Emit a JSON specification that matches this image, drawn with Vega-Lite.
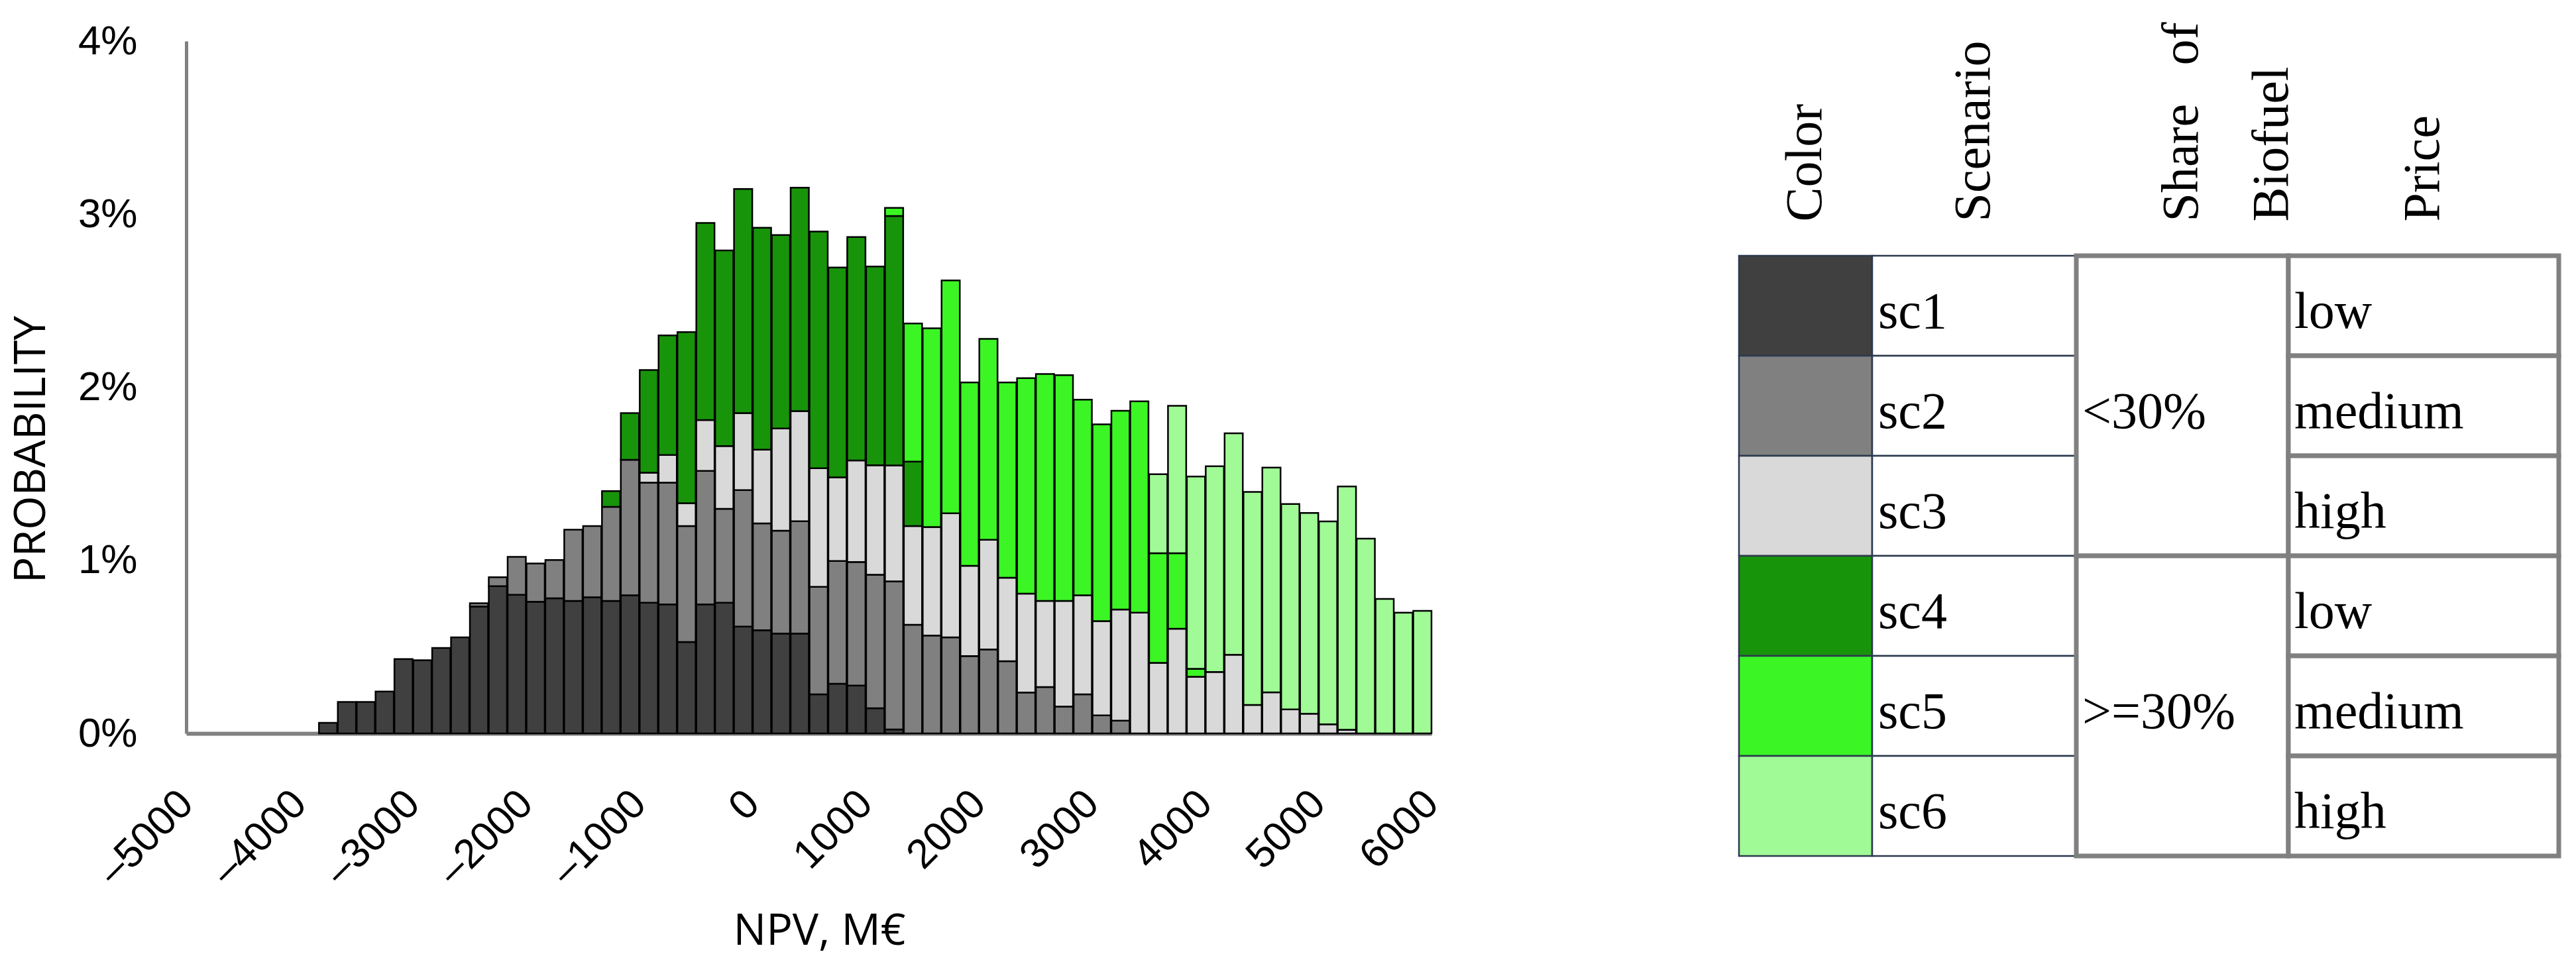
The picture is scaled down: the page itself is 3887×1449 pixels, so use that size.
{
 "$schema": "https://vega.github.io/schema/vega-lite/v6.json",
 "background": "white",
 "padding": {"left": 14, "top": 31, "right": 5, "bottom": 0},
 "config": {"view": {"stroke": null}, "axis": {"labelColor": "black", "titleColor": "black", "labelLimit": 0}},
 "datasets": {
  "hist": [
   {"lo":-3833.3,"hi":-3666.7,"sc":"sc1","p":0.061},
   {"lo":-3666.7,"hi":-3500,"sc":"sc1","p":0.182},
   {"lo":-3500,"hi":-3333.3,"sc":"sc1","p":0.182},
   {"lo":-3333.3,"hi":-3166.7,"sc":"sc1","p":0.242},
   {"lo":-3166.7,"hi":-3000,"sc":"sc1","p":0.430},
   {"lo":-3000,"hi":-2833.3,"sc":"sc1","p":0.423},
   {"lo":-2833.3,"hi":-2666.7,"sc":"sc1","p":0.494},
   {"lo":-2666.7,"hi":-2500,"sc":"sc1","p":0.555},
   {"lo":-2500,"hi":-2333.3,"sc":"sc1","p":0.733},
   {"lo":-2500,"hi":-2333.3,"sc":"sc2","p":0.019},
   {"lo":-2333.3,"hi":-2166.7,"sc":"sc1","p":0.851},
   {"lo":-2333.3,"hi":-2166.7,"sc":"sc2","p":0.051},
   {"lo":-2166.7,"hi":-2000,"sc":"sc1","p":0.801},
   {"lo":-2166.7,"hi":-2000,"sc":"sc2","p":0.219},
   {"lo":-2000,"hi":-1833.3,"sc":"sc1","p":0.761},
   {"lo":-2000,"hi":-1833.3,"sc":"sc2","p":0.221},
   {"lo":-1833.3,"hi":-1666.7,"sc":"sc1","p":0.781},
   {"lo":-1833.3,"hi":-1666.7,"sc":"sc2","p":0.221},
   {"lo":-1666.7,"hi":-1500,"sc":"sc1","p":0.766},
   {"lo":-1666.7,"hi":-1500,"sc":"sc2","p":0.411},
   {"lo":-1500,"hi":-1333.3,"sc":"sc1","p":0.787},
   {"lo":-1500,"hi":-1333.3,"sc":"sc2","p":0.411},
   {"lo":-1333.3,"hi":-1166.7,"sc":"sc1","p":0.766},
   {"lo":-1333.3,"hi":-1166.7,"sc":"sc2","p":0.543},
   {"lo":-1333.3,"hi":-1166.7,"sc":"sc4","p":0.091},
   {"lo":-1166.7,"hi":-1000,"sc":"sc1","p":0.798},
   {"lo":-1166.7,"hi":-1000,"sc":"sc2","p":0.783},
   {"lo":-1166.7,"hi":-1000,"sc":"sc4","p":0.270},
   {"lo":-1000,"hi":-833.3,"sc":"sc1","p":0.755},
   {"lo":-1000,"hi":-833.3,"sc":"sc2","p":0.694},
   {"lo":-1000,"hi":-833.3,"sc":"sc3","p":0.057},
   {"lo":-1000,"hi":-833.3,"sc":"sc4","p":0.594},
   {"lo":-833.3,"hi":-666.7,"sc":"sc1","p":0.745},
   {"lo":-833.3,"hi":-666.7,"sc":"sc2","p":0.704},
   {"lo":-833.3,"hi":-666.7,"sc":"sc3","p":0.160},
   {"lo":-833.3,"hi":-666.7,"sc":"sc4","p":0.691},
   {"lo":-666.7,"hi":-500,"sc":"sc1","p":0.528},
   {"lo":-666.7,"hi":-500,"sc":"sc2","p":0.670},
   {"lo":-666.7,"hi":-500,"sc":"sc3","p":0.132},
   {"lo":-666.7,"hi":-500,"sc":"sc4","p":0.989},
   {"lo":-500,"hi":-333.3,"sc":"sc1","p":0.745},
   {"lo":-500,"hi":-333.3,"sc":"sc2","p":0.772},
   {"lo":-500,"hi":-333.3,"sc":"sc3","p":0.294},
   {"lo":-500,"hi":-333.3,"sc":"sc4","p":1.138},
   {"lo":-333.3,"hi":-166.7,"sc":"sc1","p":0.755},
   {"lo":-333.3,"hi":-166.7,"sc":"sc2","p":0.543},
   {"lo":-333.3,"hi":-166.7,"sc":"sc3","p":0.362},
   {"lo":-333.3,"hi":-166.7,"sc":"sc4","p":1.130},
   {"lo":-166.7,"hi":0,"sc":"sc1","p":0.617},
   {"lo":-166.7,"hi":0,"sc":"sc2","p":0.789},
   {"lo":-166.7,"hi":0,"sc":"sc3","p":0.445},
   {"lo":-166.7,"hi":0,"sc":"sc4","p":1.294},
   {"lo":0,"hi":166.7,"sc":"sc1","p":0.596},
   {"lo":0,"hi":166.7,"sc":"sc2","p":0.617},
   {"lo":0,"hi":166.7,"sc":"sc3","p":0.426},
   {"lo":0,"hi":166.7,"sc":"sc4","p":1.283},
   {"lo":166.7,"hi":333.3,"sc":"sc1","p":0.577},
   {"lo":166.7,"hi":333.3,"sc":"sc2","p":0.594},
   {"lo":166.7,"hi":333.3,"sc":"sc3","p":0.591},
   {"lo":166.7,"hi":333.3,"sc":"sc4","p":1.117},
   {"lo":333.3,"hi":500,"sc":"sc1","p":0.577},
   {"lo":333.3,"hi":500,"sc":"sc2","p":0.649},
   {"lo":333.3,"hi":500,"sc":"sc3","p":0.636},
   {"lo":333.3,"hi":500,"sc":"sc4","p":1.291},
   {"lo":500,"hi":666.7,"sc":"sc1","p":0.226},
   {"lo":500,"hi":666.7,"sc":"sc2","p":0.621},
   {"lo":500,"hi":666.7,"sc":"sc3","p":0.685},
   {"lo":500,"hi":666.7,"sc":"sc4","p":1.368},
   {"lo":666.7,"hi":833.3,"sc":"sc1","p":0.287},
   {"lo":666.7,"hi":833.3,"sc":"sc2","p":0.709},
   {"lo":666.7,"hi":833.3,"sc":"sc3","p":0.483},
   {"lo":666.7,"hi":833.3,"sc":"sc4","p":1.213},
   {"lo":833.3,"hi":1000,"sc":"sc1","p":0.277},
   {"lo":833.3,"hi":1000,"sc":"sc2","p":0.713},
   {"lo":833.3,"hi":1000,"sc":"sc3","p":0.587},
   {"lo":833.3,"hi":1000,"sc":"sc4","p":1.291},
   {"lo":1000,"hi":1166.7,"sc":"sc1","p":0.145},
   {"lo":1000,"hi":1166.7,"sc":"sc2","p":0.772},
   {"lo":1000,"hi":1166.7,"sc":"sc3","p":0.632},
   {"lo":1000,"hi":1166.7,"sc":"sc4","p":1.149},
   {"lo":1166.7,"hi":1333.3,"sc":"sc1","p":0.023},
   {"lo":1166.7,"hi":1333.3,"sc":"sc2","p":0.855},
   {"lo":1166.7,"hi":1333.3,"sc":"sc3","p":0.670},
   {"lo":1166.7,"hi":1333.3,"sc":"sc4","p":1.441},
   {"lo":1166.7,"hi":1333.3,"sc":"sc5","p":0.047},
   {"lo":1333.3,"hi":1500,"sc":"sc2","p":0.628},
   {"lo":1333.3,"hi":1500,"sc":"sc3","p":0.570},
   {"lo":1333.3,"hi":1500,"sc":"sc4","p":0.372},
   {"lo":1333.3,"hi":1500,"sc":"sc5","p":0.798},
   {"lo":1500,"hi":1666.7,"sc":"sc2","p":0.566},
   {"lo":1500,"hi":1666.7,"sc":"sc3","p":0.626},
   {"lo":1500,"hi":1666.7,"sc":"sc5","p":1.149},
   {"lo":1666.7,"hi":1833.3,"sc":"sc2","p":0.555},
   {"lo":1666.7,"hi":1833.3,"sc":"sc3","p":0.717},
   {"lo":1666.7,"hi":1833.3,"sc":"sc5","p":1.345},
   {"lo":1833.3,"hi":2000,"sc":"sc2","p":0.447},
   {"lo":1833.3,"hi":2000,"sc":"sc3","p":0.521},
   {"lo":1833.3,"hi":2000,"sc":"sc5","p":1.060},
   {"lo":2000,"hi":2166.7,"sc":"sc2","p":0.485},
   {"lo":2000,"hi":2166.7,"sc":"sc3","p":0.634},
   {"lo":2000,"hi":2166.7,"sc":"sc5","p":1.160},
   {"lo":2166.7,"hi":2333.3,"sc":"sc2","p":0.417},
   {"lo":2166.7,"hi":2333.3,"sc":"sc3","p":0.483},
   {"lo":2166.7,"hi":2333.3,"sc":"sc5","p":1.128},
   {"lo":2333.3,"hi":2500,"sc":"sc2","p":0.236},
   {"lo":2333.3,"hi":2500,"sc":"sc3","p":0.572},
   {"lo":2333.3,"hi":2500,"sc":"sc5","p":1.245},
   {"lo":2500,"hi":2666.7,"sc":"sc2","p":0.268},
   {"lo":2500,"hi":2666.7,"sc":"sc3","p":0.498},
   {"lo":2500,"hi":2666.7,"sc":"sc5","p":1.311},
   {"lo":2666.7,"hi":2833.3,"sc":"sc2","p":0.155},
   {"lo":2666.7,"hi":2833.3,"sc":"sc3","p":0.611},
   {"lo":2666.7,"hi":2833.3,"sc":"sc5","p":1.304},
   {"lo":2833.3,"hi":3000,"sc":"sc2","p":0.226},
   {"lo":2833.3,"hi":3000,"sc":"sc3","p":0.572},
   {"lo":2833.3,"hi":3000,"sc":"sc5","p":1.130},
   {"lo":3000,"hi":3166.7,"sc":"sc2","p":0.104},
   {"lo":3000,"hi":3166.7,"sc":"sc3","p":0.545},
   {"lo":3000,"hi":3166.7,"sc":"sc5","p":1.137},
   {"lo":3166.7,"hi":3333.3,"sc":"sc2","p":0.074},
   {"lo":3166.7,"hi":3333.3,"sc":"sc3","p":0.642},
   {"lo":3166.7,"hi":3333.3,"sc":"sc5","p":1.148},
   {"lo":3333.3,"hi":3500,"sc":"sc3","p":0.698},
   {"lo":3333.3,"hi":3500,"sc":"sc5","p":1.221},
   {"lo":3500,"hi":3666.7,"sc":"sc3","p":0.408},
   {"lo":3500,"hi":3666.7,"sc":"sc5","p":0.633},
   {"lo":3500,"hi":3666.7,"sc":"sc6","p":0.457},
   {"lo":3666.7,"hi":3833.3,"sc":"sc3","p":0.605},
   {"lo":3666.7,"hi":3833.3,"sc":"sc5","p":0.436},
   {"lo":3666.7,"hi":3833.3,"sc":"sc6","p":0.852},
   {"lo":3833.3,"hi":4000,"sc":"sc3","p":0.327},
   {"lo":3833.3,"hi":4000,"sc":"sc5","p":0.046},
   {"lo":3833.3,"hi":4000,"sc":"sc6","p":1.111},
   {"lo":4000,"hi":4166.7,"sc":"sc3","p":0.355},
   {"lo":4000,"hi":4166.7,"sc":"sc6","p":1.189},
   {"lo":4166.7,"hi":4333.3,"sc":"sc3","p":0.455},
   {"lo":4166.7,"hi":4333.3,"sc":"sc6","p":1.279},
   {"lo":4333.3,"hi":4500,"sc":"sc3","p":0.165},
   {"lo":4333.3,"hi":4500,"sc":"sc6","p":1.230},
   {"lo":4500,"hi":4666.7,"sc":"sc3","p":0.237},
   {"lo":4500,"hi":4666.7,"sc":"sc6","p":1.299},
   {"lo":4666.7,"hi":4833.3,"sc":"sc3","p":0.139},
   {"lo":4666.7,"hi":4833.3,"sc":"sc6","p":1.186},
   {"lo":4833.3,"hi":5000,"sc":"sc3","p":0.114},
   {"lo":4833.3,"hi":5000,"sc":"sc6","p":1.160},
   {"lo":5000,"hi":5166.7,"sc":"sc3","p":0.053},
   {"lo":5000,"hi":5166.7,"sc":"sc6","p":1.172},
   {"lo":5166.7,"hi":5333.3,"sc":"sc3","p":0.021},
   {"lo":5166.7,"hi":5333.3,"sc":"sc6","p":1.406},
   {"lo":5333.3,"hi":5500,"sc":"sc6","p":1.125},
   {"lo":5500,"hi":5666.7,"sc":"sc6","p":0.777},
   {"lo":5666.7,"hi":5833.3,"sc":"sc6","p":0.698},
   {"lo":5833.3,"hi":6000,"sc":"sc6","p":0.708}
  ],
  "legend": [
   {"sc":"sc1","share":"<30%","price":"low"},
   {"sc":"sc2","share":"<30%","price":"medium"},
   {"sc":"sc3","share":"<30%","price":"high"},
   {"sc":"sc4","share":">=30%","price":"low"},
   {"sc":"sc5","share":">=30%","price":"medium"},
   {"sc":"sc6","share":">=30%","price":"high"}
  ]
 },
 "spacing": 440,
 "hconcat": [
  {
   "width": 1879,
   "height": 1045,
   "data": {"name": "hist"},
   "mark": {"type": "bar", "stroke": "black", "strokeWidth": 2.5},
   "encoding": {
    "x": {"field": "lo", "type": "quantitative", "bin": {"binned": true, "step": 166.6667},
     "scale": {"domain": [-5000, 6000], "nice": false, "zero": false},
     "axis": {"values": [-5000,-4000,-3000,-2000,-1000,0,1000,2000,3000,4000,5000,6000],
      "labelExpr": "datum.value < 0 ? '–' + format(-datum.value, 'd') : format(datum.value, 'd')",
      "labelAngle": -45, "labelAlign": "right", "labelBaseline": "middle",
      "labelFont": "Liberation Sans", "labelFontSize": 62, "labelPadding": 96, "labelLimit": 0,
      "labelFlush": false, "labelOverlap": false, "labelBound": false,
      "ticks": false, "tickSize": 0, "grid": false,
      "domainColor": "#808080", "domainWidth": 6,
      "title": "NPV, M€", "titleFont": "Open Sans",
      "titleFontSize": 66, "titleFontWeight": "normal", "titleX": 955, "titleY": 318, "titleBaseline": "alphabetic", "titleAlign": "center"}},
    "x2": {"field": "hi"},
    "y": {"field": "p", "type": "quantitative", "stack": "zero",
     "scale": {"domain": [0, 4], "nice": false},
     "axis": {"values": [0,1,2,3,4], "labelExpr": "datum.value + '%'",
      "labelFont": "Liberation Sans", "labelFontSize": 62, "labelPadding": 74, "labelFlush": false,
      "ticks": false, "tickSize": 0, "grid": false,
      "domainColor": "#808080", "domainWidth": 5,
      "title": "PROBABILITY", "titleFont": "Open Sans",
      "titleFontSize": 66, "titleFontWeight": "normal", "titlePadding": 36, "titleY": 616}},
    "color": {"field": "sc", "type": "nominal",
     "scale": {"domain": ["sc1","sc2","sc3","sc4","sc5","sc6"], "range": ["#404040","#808080","#d9d9d9","#18940a","#3bf524","#a0fa96"]},
     "legend": null},
    "order": {"field": "sc", "type": "ordinal", "sort": "ascending"}
   }
  },
  {
   "spacing": 0,
   "bounds": "flush",
   "vconcat": [
    {
     "width": 1237, "height": 324,
     "data": {"values": []},
     "mark": {"type": "text", "text": ""}
    },
    {
     "spacing": 0,
     "bounds": "flush",
     "hconcat": [
      {
       "width": 201, "height": 906,
       "data": {"name": "legend"},
       "mark": {"type": "rect", "stroke": "#2b3a4e", "strokeWidth": 2.5},
       "encoding": {
        "x": {"datum": "Color", "type": "nominal", "scale": {"paddingInner": 0, "paddingOuter": 0},
         "axis": {"orient": "top", "title": null, "domain": false, "ticks": false, "labelAngle": 270, "labelAlign": "left", "labelBaseline": "middle", "labelFont": "Liberation Serif", "labelFontSize": 78, "labelPadding": 52, "labelLimit": 0}},
        "y": {"field": "sc", "type": "nominal", "sort": null, "scale": {"paddingInner": 0, "paddingOuter": 0}, "axis": null},
        "color": {"field": "sc", "type": "nominal",
         "scale": {"domain": ["sc1","sc2","sc3","sc4","sc5","sc6"], "range": ["#404040","#808080","#d9d9d9","#18940a","#3bf524","#a0fa96"]},
         "legend": null}
       }
      },
      {
       "width": 308, "height": 906,
       "data": {"name": "legend"},
       "layer": [
        {
         "mark": {"type": "rect", "fill": "white", "stroke": "#2b3a4e", "strokeWidth": 2.5},
         "encoding": {
          "x": {"datum": "Scenario", "type": "nominal", "scale": {"paddingInner": 0, "paddingOuter": 0},
           "axis": {"orient": "top", "title": null, "domain": false, "ticks": false, "labelAngle": 270, "labelAlign": "left", "labelBaseline": "middle", "labelFont": "Liberation Serif", "labelFontSize": 78, "labelPadding": 52, "labelLimit": 0}},
          "y": {"field": "sc", "type": "nominal", "sort": null, "scale": {"paddingInner": 0, "paddingOuter": 0}, "axis": null}
         }
        },
        {
         "mark": {"type": "text", "align": "left", "baseline": "middle", "dx": 9, "dy": 10, "font": "Liberation Serif", "fontSize": 78, "color": "black"},
         "encoding": {
          "x": {"datum": "Scenario", "type": "nominal", "bandPosition": 0},
          "y": {"field": "sc", "type": "nominal", "sort": null},
          "text": {"field": "sc"}
         }
        }
       ]
      },
      {
       "width": 320, "height": 906,
       "data": {"name": "legend"},
       "transform": [{"aggregate": [{"op": "count", "as": "n"}], "groupby": ["share"]}],
       "layer": [
        {
         "mark": {"type": "rect", "fill": "white", "stroke": "#808080", "strokeWidth": 7},
         "encoding": {
          "x": {"datum": "Share\u00a0\u00a0\u00a0of|Biofuel", "type": "nominal", "scale": {"paddingInner": 0, "paddingOuter": 0},
           "axis": {"orient": "top", "title": null, "domain": false, "ticks": false, "labelAngle": 270, "labelAlign": "left", "labelBaseline": "middle", "labelFont": "Liberation Serif", "labelFontSize": 78, "labelPadding": 52, "labelLimit": 0, "labelLineHeight": 136, "labelExpr": "split(datum.label, '|')"}},
          "y": {"field": "share", "type": "nominal", "sort": ["<30%", ">=30%"], "scale": {"paddingInner": 0, "paddingOuter": 0}, "axis": null}
         }
        },
        {
         "mark": {"type": "text", "align": "left", "baseline": "middle", "dx": 9, "dy": 10, "font": "Liberation Serif", "fontSize": 78, "color": "black"},
         "encoding": {
          "x": {"datum": "Share\u00a0\u00a0\u00a0of|Biofuel", "type": "nominal", "bandPosition": 0},
          "y": {"field": "share", "type": "nominal", "sort": ["<30%", ">=30%"]},
          "text": {"field": "share"}
         }
        }
       ]
      },
      {
       "width": 408, "height": 906,
       "data": {"name": "legend"},
       "layer": [
        {
         "mark": {"type": "rect", "fill": "white", "stroke": "#808080", "strokeWidth": 7},
         "encoding": {
          "x": {"datum": "Price", "type": "nominal", "scale": {"paddingInner": 0, "paddingOuter": 0},
           "axis": {"orient": "top", "title": null, "domain": false, "ticks": false, "labelAngle": 270, "labelAlign": "left", "labelBaseline": "middle", "labelFont": "Liberation Serif", "labelFontSize": 78, "labelPadding": 52, "labelLimit": 0}},
          "y": {"field": "sc", "type": "nominal", "sort": null, "scale": {"paddingInner": 0, "paddingOuter": 0}, "axis": null}
         }
        },
        {
         "mark": {"type": "text", "align": "left", "baseline": "middle", "dx": 9, "dy": 10, "font": "Liberation Serif", "fontSize": 78, "color": "black"},
         "encoding": {
          "x": {"datum": "Price", "type": "nominal", "bandPosition": 0},
          "y": {"field": "sc", "type": "nominal", "sort": null},
          "text": {"field": "price"}
         }
        }
       ]
      }
     ]
    }
   ]
  }
 ]
}
